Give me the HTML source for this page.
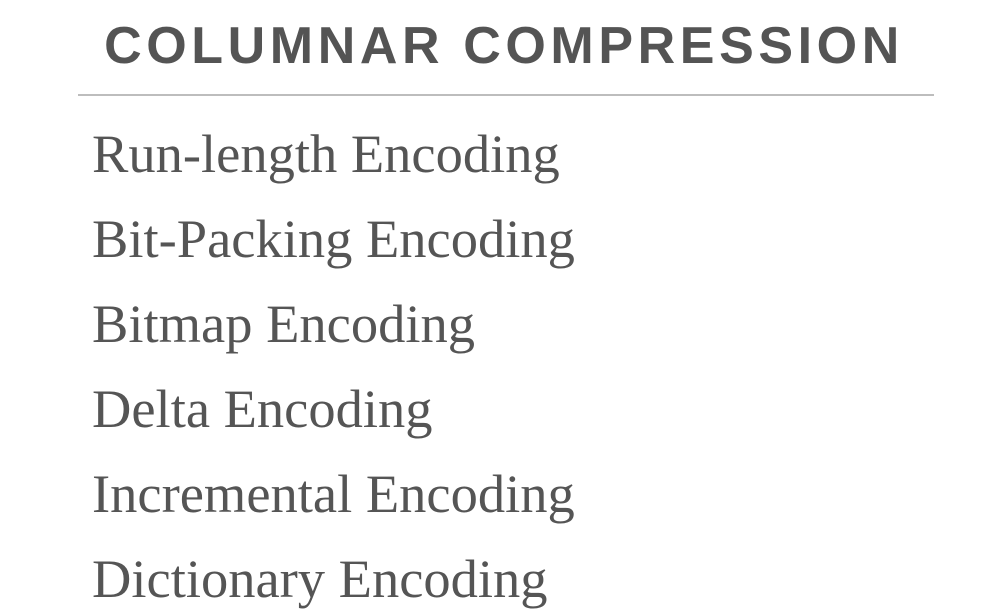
<!DOCTYPE html>
<html><head><meta charset="utf-8"><style>
html,body{margin:0;padding:0;background:#fff;}
body{width:983px;height:616px;position:relative;overflow:hidden;}
.t{position:absolute;left:0;width:1008px;top:16px;text-align:center;font-family:"Liberation Sans",sans-serif;font-weight:bold;font-size:52px;letter-spacing:4.6px;color:#545454;line-height:60px;}
.hr{position:absolute;left:78px;width:856px;top:94px;height:2px;background:#bdbdbd;}
.i{position:absolute;left:92px;font-family:"Liberation Serif",serif;font-size:54.5px;color:#555;line-height:60px;white-space:nowrap;}
</style></head><body>
<div class="t">COLUMNAR COMPRESSION</div>
<div class="hr"></div>
<div class="i" style="top:124px">Run-length Encoding</div>
<div class="i" style="top:209px">Bit-Packing Encoding</div>
<div class="i" style="top:294px">Bitmap Encoding</div>
<div class="i" style="top:379px">Delta Encoding</div>
<div class="i" style="top:464px">Incremental Encoding</div>
<div class="i" style="top:549px">Dictionary Encoding</div>
</body></html>
